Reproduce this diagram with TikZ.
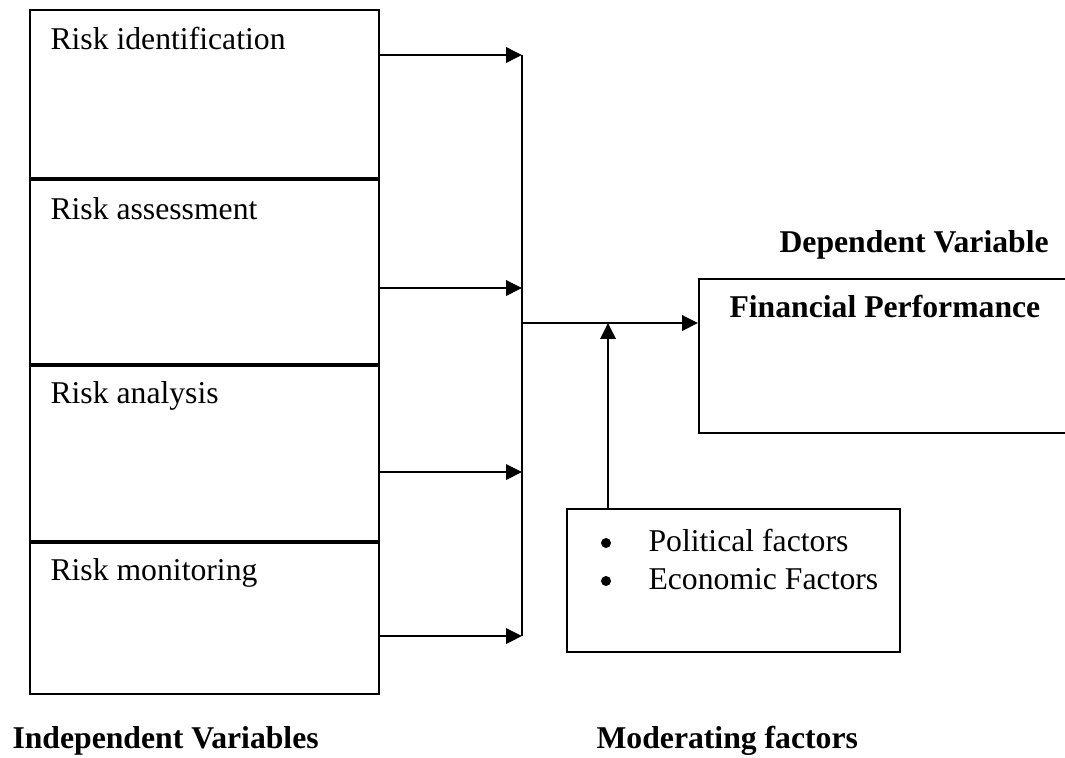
\documentclass[tikz,border=0pt]{standalone}
\usepackage{fontspec}
\setmainfont{Liberation Serif}
\usepackage{tikz}
\usetikzlibrary{positioning,arrows.meta,calc}
\newlength\pxu
\setlength\pxu{0.3786pt}

\begin{document}
\begin{tikzpicture}[x=0.3786pt,y=-0.3786pt,
  font=\fontsize{12}{14.4}\selectfont,
  every node/.style={inner sep=0pt},
  box/.style={draw,line width=0.75pt,anchor=north west},
  idbox/.style={box,minimum width=349*\pxu},
  line/.style={line width=0.75pt},
  arr/.style={line width=0.75pt,-{Triangle[length=6pt,width=5.8pt]}},
  txt/.style={anchor=base west},
  dot/.style={circle,fill,minimum size=10*\pxu},
  head/.style={anchor=base west,font=\fontsize{12}{14.4}\selectfont\bfseries}]
  \clip (0,0) rectangle (1065,757);
  % independent variables
  \node[idbox,minimum height=168*\pxu] (ident) at (29,9) {};
  \node[idbox,minimum height=184*\pxu,below=0pt of ident] (assess) {};
  \node[idbox,minimum height=175*\pxu,below=0pt of assess] (analys) {};
  \node[idbox,minimum height=151*\pxu,below=0pt of analys] (monit) {};
  \node[txt] (identtxt) at ($(ident.north west)+(21,40)$) {Risk identification};
  \node[txt] (assesstxt) at ($(assess.north west)+(21,41)$) {Risk assessment};
  \node[txt] (analystxt) at ($(analys.north west)+(21,39)$) {Risk analysis};
  \node[txt] (monittxt) at ($(monit.north west)+(21,39)$) {Risk monitoring};
  % dependent variable
  \node[box,minimum width=420*\pxu,minimum height=154*\pxu] (fin) at (698,278) {};
  \node[head] (fintxt) at (729,317) {Financial Performance};
  \node[head] (deptxt) at (779,252) {Dependent Variable};
  % moderating factors
  \node[box,minimum width=333*\pxu,minimum height=143*\pxu] (mod) at (566,508) {};
  \node[dot] (bul1) at (606,543) {};
  \node[dot] (bul2) at (606,581) {};
  \node[txt] (mod1) at (648,551) {Political factors};
  \node[txt] (mod2) at (648,589) {Economic Factors};
  \node[head] (indeptxt) at (12,748) {Independent Variables};
  \node[head] (modtxt) at (596,748) {Moderating factors};
  % connectors
  \coordinate (j1) at (522,55);
  \coordinate (j2) at (522,288);
  \coordinate (j3) at (522,472);
  \coordinate (j4) at (522,636);
  \coordinate (jm) at (522,323);
  \coordinate (mm) at (608,323);
  \draw[arr] (ident.east |- j1) -- (j1);
  \draw[arr] (assess.east |- j2) -- (j2);
  \draw[arr] (analys.east |- j3) -- (j3);
  \draw[arr] (monit.east |- j4) -- (j4);
  \draw[line] (j1) -- (j4);
  \draw[arr] (jm) -- (fin.west |- jm);
  \draw[arr] (mod.north -| mm) -- (mm);
\end{tikzpicture}
\end{document}
